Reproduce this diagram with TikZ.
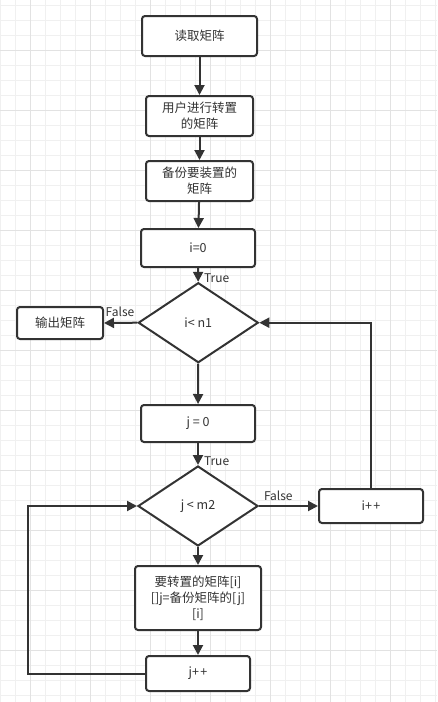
\documentclass[tikz,border=0pt]{standalone}
\usepackage{fontspec}
\setmainfont{Noto Sans CJK SC}
\usetikzlibrary{arrows.meta,shapes.geometric}
\definecolor{ink}{HTML}{333333}
\definecolor{gminor}{HTML}{F0F0F0}
\definecolor{gmajor}{HTML}{E2E2E2}
\tikzset{
  box/.style={draw=ink, line width=2pt, rounded corners=3pt, fill=white, text=ink,
    inner sep=0pt, align=center, font=\fontsize{12.5}{16}\selectfont},
  dia/.style={diamond, draw=ink, line width=2pt, fill=white, text=ink,
    inner sep=0pt, shape aspect=1.5, font=\fontsize{12.5}{16}\selectfont},
  arr/.style={draw=ink, line width=2pt, -{Triangle[length=10pt,width=10pt]}},
  lbl/.style={text=ink, inner sep=1pt, font=\fontsize{12}{13}\selectfont}
}
\begin{document}
\begin{tikzpicture}[x=1pt,y=-1pt]
\useasboundingbox (0,0) rectangle (437,702);
\fill[white] (0,0) rectangle (437,702);
% grid
\foreach \x in {0,15,...,435} \draw[gminor, line width=0.8pt] (\x,0) -- (\x,702);
\foreach \y in {5,20,...,700} \draw[gminor, line width=0.8pt] (0,\y) -- (437,\y);
\foreach \x in {30,90,...,430} \draw[gmajor, line width=0.9pt] (\x,0) -- (\x,702);
\foreach \y in {50,110,...,700} \draw[gmajor, line width=0.9pt] (0,\y) -- (437,\y);
% nodes
\node[box, minimum width=115pt, minimum height=40pt] (b1) at (199.5,36) {读取矩阵};
\node[box, minimum width=107pt, minimum height=40pt] (b2) at (199.5,116) {用户进行转置\\的矩阵};
\node[box, minimum width=107pt, minimum height=40pt] (b3) at (199.5,181) {备份要装置的\\矩阵};
\node[box, minimum width=114pt, minimum height=38pt] (b4) at (198,248) {i=0};
\node[dia, minimum width=120pt, minimum height=80pt] (d1) at (198.3,322.7) {i< n1};
\node[box, minimum width=86pt, minimum height=32pt] (out) at (60,323) {输出矩阵};
\node[box, minimum width=114pt, minimum height=37pt] (j0) at (198,423.5) {j = 0};
\node[dia, minimum width=120pt, minimum height=80pt] (d2) at (198,506) {j < m2};
\node[box, minimum width=104pt, minimum height=34pt] (ipp) at (371,506) {i+\kern1.5pt+};
\node[box, minimum width=126pt, minimum height=64pt] (big) at (198,598) {要转置的矩阵[i]\\{}[]j=备份矩阵的[j]\\{}[i]};
\node[box, minimum width=104pt, minimum height=35pt] (jpp) at (198,673.5) {j+\kern1.5pt+};
\coordinate (lp) at (28,506);
% connectors
\draw[arr] (b1) -- (b2);
\draw[arr] (b2) -- (b3);
\draw[arr] (b3) -- (b4);
\draw[arr] (b4) -- (d1) node[lbl, at end, anchor=west, xshift=4pt, yshift=4pt] {True};
\draw[arr] (d1.west) -- (out.east) node[lbl, at start, anchor=south east, xshift=-1pt, yshift=4pt] {False};
\draw[arr] (d1) -- (j0);
\draw[arr] (j0) -- (d2) node[lbl, at end, anchor=west, xshift=4pt, yshift=4pt] {True};
\draw[arr] (d2.east) -- (ipp.west) node[lbl, at start, anchor=south west, xshift=3pt, yshift=3pt] {False};
\draw[arr] (ipp.north) |- (d1.east);
\draw[arr] (d2) -- (big);
\draw[arr] (big) -- (jpp);
\draw[arr] (jpp.west) -| (lp) -- (d2.west);
\end{tikzpicture}
\end{document}
